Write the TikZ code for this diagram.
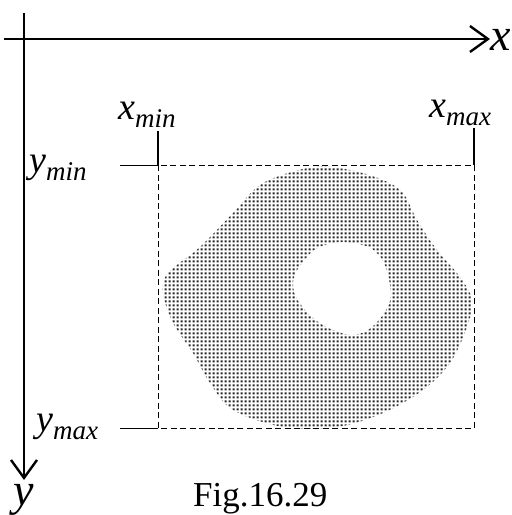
\documentclass[tikz,border=0pt]{standalone}
\usepackage{fontspec}
\setmainfont{Liberation Serif}[ItalicFont={Liberation Serif Italic}]
\usetikzlibrary{arrows.meta,patterns.meta}
\newcommand{\lblsub}[1]{\raisebox{-8pt}{\fontsize{27}{27}\selectfont\itshape #1}}
\tikzdeclarepattern{
  name=sqdots, type=uncolored,
  bounding box={(0pt,0pt) and (4pt,4pt)},
  tile size={(4pt,4pt)},
  code={\pgfpathrectangle{\pgfpoint{0.8pt}{0.8pt}}{\pgfpoint{2.5pt}{2.5pt}}\pgfusepath{fill}}
}

\begin{document}
\begin{tikzpicture}[
  x=1pt, y=-1pt,
  axis/.style={line width=2.4pt, -{Straight Barb[length=18pt, width=26pt, line width=2.4pt]}},
  tick/.style={line width=1.2pt},
  box/.style={dashed, line width=1pt, dash pattern=on 6pt off 3.5pt},
  lbl/.style={inner sep=0pt, font=\fontsize{38}{38}\selectfont\itshape},
  axlbl/.style={inner sep=0pt, font=\fontsize{46}{46}\selectfont\itshape},
  blob/.style={pattern=sqdots, pattern color=black!85, even odd rule}
]
\useasboundingbox (0,0) rectangle (512,515);
% axes
\coordinate (xstart) at (4,39);
\coordinate (xend) at (490,39);
\coordinate (ystart) at (24,13);
\coordinate (yend) at (24,480);
\draw[axis] (xstart) -- (xend);
\draw[axis] (ystart) -- (yend);
\node[axlbl, anchor=west] (xlab) at (490,40) {x};
\node[axlbl, anchor=north] (ylab) at (24,484) {y};
% bounding box of the region
\coordinate (tl) at (158,165);
\coordinate (br) at (474,428);
\coordinate (tr) at (474,165);
\coordinate (bl) at (158,428);
\fill[blob]
  plot[smooth cycle, tension=0.55] coordinates {(313,167) (350,170) (383,180) (403,193) (417,220) (437,250)
    (460,277) (472,300) (467,327) (450,363) (423,390) (383,413) (337,427) (283,427) (233,410)
    (210,383) (193,353) (173,323) (163,293) (168,273) (200,247) (233,213) (263,183)}
  plot[smooth cycle, tension=0.7] coordinates {(293,283) (307,257) (325,245) (352,243) (378,254) (390,285)
    (386,310) (362,333) (333,330) (305,310)};
\draw[box] (tl) rectangle (br);
% ticks and labels
\coordinate (xmintop) at (158,131);
\coordinate (xmaxtop) at (474,128);
\coordinate (ymintick) at (120,165);
\coordinate (ymaxtick) at (120,428);
\draw[tick] (xmintop) -- (tl);
\draw[tick] (xmaxtop) -- (tr);
\draw[tick, line width=0.9pt] (ymintick) -- (tl);
\draw[tick, line width=0.9pt] (ymaxtick) -- (bl);
\node[lbl, anchor=base west] (xmin) at (118,119) {x\lblsub{min}};
\node[lbl, anchor=base west] (xmax) at (429,117) {x\lblsub{max}};
\node[lbl, anchor=base west] (ymin) at (29,172) {y\lblsub{min}};
\node[lbl, anchor=base west] (ymax) at (36,431) {y\lblsub{max}};
\node[inner sep=0pt, anchor=base west, font=\fontsize{35}{35}\selectfont] (cap) at (193,506) {Fig.16.29};
\end{tikzpicture}
\end{document}
